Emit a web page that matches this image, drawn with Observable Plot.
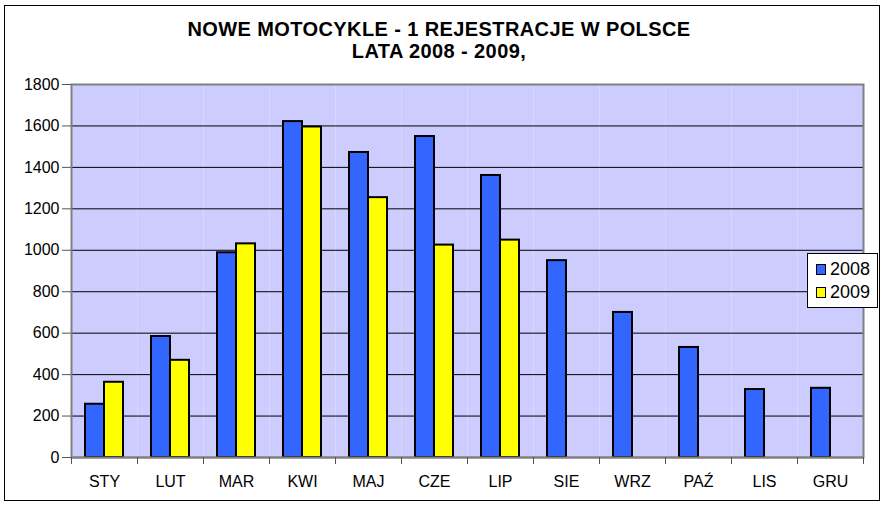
<!DOCTYPE html>
<html>
<head>
<meta charset="utf-8">
<script src="https://cdn.jsdelivr.net/npm/d3@7"></script>
<script src="https://cdn.jsdelivr.net/npm/@observablehq/plot@0.6"></script>
<style>
  html, body { margin: 0; padding: 0; background: #fff; }
  #wrap { position: relative; width: 886px; height: 506px; font-family: "Liberation Sans", Arial, sans-serif; color: #000; overflow: hidden; }
  #border { position: absolute; left: 4px; top: 5px; width: 874px; height: 494px; border: 1.5px solid #000; pointer-events: none; }
  .title { position: absolute; left: 0; width: 878px; text-align: center; font-weight: bold; font-size: 20px; letter-spacing: 0.4px; line-height: 1; }
  #chart { position: absolute; left: 0; top: 0; }
  #legend { position: absolute; left: 807px; top: 253px; width: 71px; height: 55px; background: #fff; border: 1px solid #000; box-sizing: border-box; font-size: 18px; }
  .row { position: absolute; left: 8px; display: flex; align-items: center; height: 20px; }
  .sw { width: 8px; height: 9px; border: 1.5px solid #000; margin-right: 4px; }
</style>
</head>
<body>
<div id="wrap">
  <div class="title" id="t1" style="top:19px">NOWE MOTOCYKLE - 1 REJESTRACJE W POLSCE</div>
  <div class="title" id="t2" style="top:41px">LATA 2008 - 2009,</div>
  <div id="chart"></div>
  <div id="legend"></div>
  <div id="border"></div>
</div>
<script>
const months = ["STY", "LUT", "MAR", "KWI", "MAJ", "CZE", "LIP", "SIE", "WRZ", "PAŹ", "LIS", "GRU"];
const years = ["2008", "2009"];
const values2008 = [257, 584, 988, 1621, 1472, 1549, 1361, 950, 700, 531, 328, 334];
const values2009 = [363, 469, 1031, 1595, 1254, 1025, 1049];
const yTicks = [0, 200, 400, 600, 800, 1000, 1200, 1400, 1600, 1800];
const colors = ["#3366ff", "#ffff00"];

const data = [];
months.forEach((m, i) => {
  data.push({month: m, year: years[0], value: values2008[i]});
  if (i < values2009.length) data.push({month: m, year: years[1], value: values2009[i]});
});

const W = 886, H = 506, ML = 71, MR = 23, MT = 84, MB = 49;
const step = (W - ML - MR) / months.length;

const chart = Plot.plot({
  width: W,
  height: H,
  marginLeft: ML,
  marginRight: MR,
  marginTop: MT,
  marginBottom: MB,
  style: {fontFamily: "'Liberation Sans', Arial, sans-serif", fontSize: "16px", color: "#000", background: "transparent"},
  fx: {domain: months, padding: 0, label: null},
  x: {domain: years, paddingInner: 0, paddingOuter: 0.71, axis: null},
  y: {domain: [0, 1800], label: null},
  color: {domain: years, range: colors},
  marks: [
    Plot.frame({fill: "#ccccff", stroke: null}),
    Plot.gridY(yTicks, {stroke: "#000", strokeOpacity: 1, strokeWidth: 1}),
    Plot.frame({stroke: "#808080", strokeWidth: 2, facet: "super"}),
    Plot.barY(data, {fx: "month", x: "year", y: "value", fill: "year", stroke: "#000", strokeWidth: 2}),
    Plot.ruleY([0], {stroke: "#808080", strokeWidth: 2}),
    Plot.axisY(yTicks, {tickSize: 9, tickPadding: 3, fontSize: 16, label: null, stroke: "#555", tickFormat: d => String(d)}),
    Plot.axisFx({anchor: "bottom", tickSize: 0, tickPadding: 18, fontSize: 16, label: null}),
    Plot.axisFx({anchor: "bottom", tickSize: 7, tickFormat: () => "", label: null, dx: -step / 2, stroke: "#555"}),
    Plot.axisFx({anchor: "bottom", tickSize: 7, tickFormat: () => "", label: null, dx: step / 2, stroke: "#555"})
  ]
});
document.getElementById("chart").appendChild(chart);

const legend = document.getElementById("legend");
years.forEach((y, i) => {
  const row = document.createElement("div");
  row.className = "row";
  row.style.top = (5 + i * 23) + "px";
  const sw = document.createElement("div");
  sw.className = "sw";
  sw.style.background = colors[i];
  const t = document.createElement("span");
  t.textContent = y;
  row.appendChild(sw);
  row.appendChild(t);
  legend.appendChild(row);
});
</script>
</body>
</html>
